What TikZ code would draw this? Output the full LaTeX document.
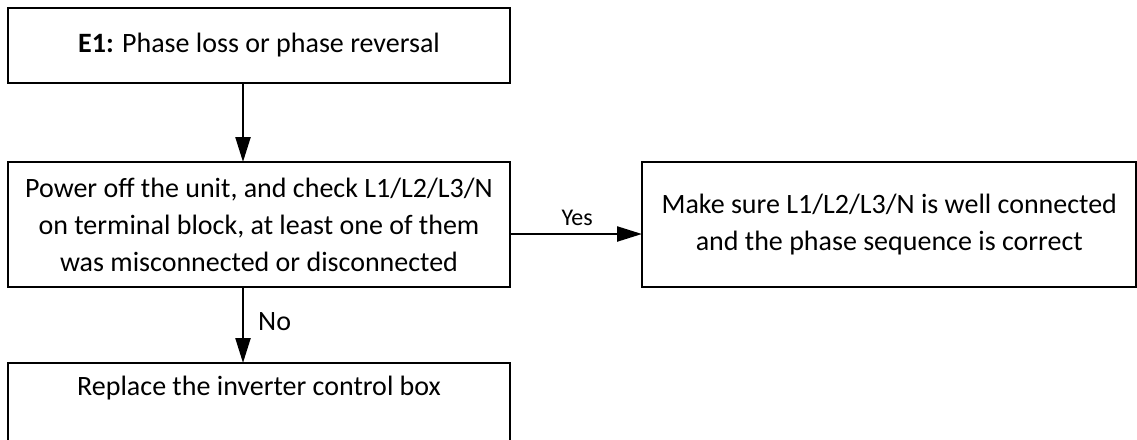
\documentclass[tikz,border=0pt]{standalone}
\usepackage{fontspec}
\setmainfont{Carlito}
\usetikzlibrary{arrows.meta}

\begin{document}
\begin{tikzpicture}[
    x=1pt, y=-1pt,
    box/.style={draw, line width=2.5pt, inner sep=0pt, outer sep=0pt, align=center,
        font=\fontsize{28}{37}\selectfont},
    lbl/.style={inner sep=0pt, font=\fontsize{24}{28}\selectfont},
    flow/.style={->, line width=2.3pt},
    >={Triangle[length=25pt, width=15pt]}
]
    \useasboundingbox (0,0) rectangle (1137,439);

    \node[box, minimum width=502pt, minimum height=75pt] (e1) at (259,45.5)
        {\textbf{E1:} Phase loss or phase reversal};
    \node[box, minimum width=502pt, minimum height=125pt] (check) at (259,224.5)
        {Power off the unit, and check L1/L2/L3/N\\on terminal block, at least one of them\\was misconnected or disconnected};
    \node[box, minimum width=494.5pt, minimum height=125pt] (sure) at (889.25,224.5)
        {Make sure L1/L2/L3/N is well connected\\and the phase sequence is correct};
    \node[box, anchor=north, minimum width=502pt, text height=32.5pt, text depth=46pt] (replace) at (259,363)
        {Replace the inverter control box};

    \coordinate (ax) at (243,0);
    \coordinate (ay) at (0,234);
    \draw[flow] (e1.south -| ax) -- (check.north -| ax);
    \draw[flow] (check.east |- ay) -- (sure.west |- ay);
    \draw[flow] (check.south -| ax) -- (replace.north -| ax);

    \node[lbl, anchor=base east] (yes) at (593,225) {Yes};
    \node[lbl, font=\fontsize{28}{37}\selectfont, anchor=base west] (no) at (258,330.5) {No};
\end{tikzpicture}
\end{document}
